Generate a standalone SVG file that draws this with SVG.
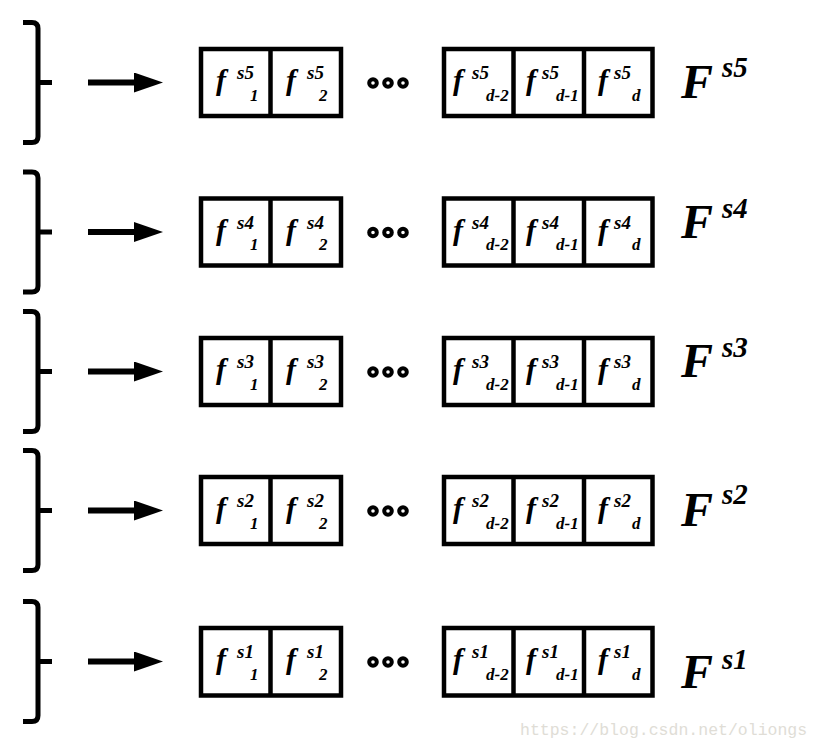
<svg xmlns="http://www.w3.org/2000/svg" width="820" height="749" viewBox="0 0 820 749">
<defs>
<style>
.br{fill:none;stroke:#000;stroke-width:5}
.bx{fill:#fff;stroke:#000;stroke-width:4.5}
.dv{stroke:#000;stroke-width:4.5}
.dot{fill:none;stroke:#000;stroke-width:4}
.ar{stroke:#000;stroke-width:6}
text{font-family:'Liberation Serif','DejaVu Serif',serif;font-style:italic;font-weight:700;fill:#000}
.f{font-size:30px}
.sp{font-size:19px}
.sb{font-size:17px}
.F{font-size:48px}
.Fs{font-size:29px}
text.wm{font-family:'Liberation Mono','DejaVu Sans Mono',monospace;font-style:normal;font-weight:400;font-size:16.5px;fill:#e0ddd6}
</style>
<marker id="ah" markerUnits="userSpaceOnUse" markerWidth="29" markerHeight="20" refX="0" refY="10" orient="auto">
<path d="M0,0 L29,10 L0,20 z" fill="#000"/>
</marker>
</defs>
<rect width="820" height="749" fill="#fff"/>

<g id="connectors">
<line class="ar" x1="88" y1="82.5" x2="134" y2="82.5" marker-end="url(#ah)"/>
<line class="ar" x1="88" y1="232" x2="134" y2="232" marker-end="url(#ah)"/>
<line class="ar" x1="88" y1="371.5" x2="134" y2="371.5" marker-end="url(#ah)"/>
<line class="ar" x1="88" y1="510.5" x2="134" y2="510.5" marker-end="url(#ah)"/>
<line class="ar" x1="88" y1="661.5" x2="134" y2="661.5" marker-end="url(#ah)"/>
</g>

<!-- Row s5 -->
<g id="bracket-s5"><path class="br" d="M23,22.5 H32 Q38,22.5 38,28.5 V136.5 Q38,142.5 32,142.5 H23 M38,82.5 H52"/></g>
<g id="cells-s5-a">
<rect class="bx" x="201" y="49" width="140" height="67"/><line class="dv" x1="270.5" y1="49" x2="270.5" y2="116"/>
<text class="f" x="216" y="90">f</text><text class="sp" x="237" y="79">s5</text><text class="sb" x="250" y="100.5">1</text>
<text class="f" x="286" y="90">f</text><text class="sp" x="307" y="79">s5</text><text class="sb" x="319" y="100.5">2</text>
</g>
<g id="dots-s5"><circle class="dot" cx="373" cy="83" r="3.8"/><circle class="dot" cx="388" cy="83" r="3.8"/><circle class="dot" cx="403" cy="83" r="3.8"/></g>
<g id="cells-s5-b">
<rect class="bx" x="444" y="49" width="208.5" height="67"/><line class="dv" x1="513.5" y1="49" x2="513.5" y2="116"/><line class="dv" x1="584" y1="49" x2="584" y2="116"/>
<text class="f" x="453" y="90">f</text><text class="sp" x="472" y="79">s5</text><text class="sb" x="486" y="100.5">d-2</text>
<text class="f" x="526" y="90">f</text><text class="sp" x="542" y="79">s5</text><text class="sb" x="556" y="100.5">d-1</text>
<text class="f" x="598" y="90">f</text><text class="sp" x="614" y="79">s5</text><text class="sb" x="632" y="100.5">d</text>
</g>
<g id="label-s5"><text class="F" x="681" y="98">F</text><text class="Fs" x="722" y="77">s5</text></g>

<!-- Row s4 -->
<g id="bracket-s4"><path class="br" d="M23,172 H32 Q38,172 38,178 V286 Q38,292 32,292 H23 M38,232 H52"/></g>
<g id="cells-s4-a">
<rect class="bx" x="201" y="198.5" width="140" height="67"/><line class="dv" x1="270.5" y1="198.5" x2="270.5" y2="265.5"/>
<text class="f" x="216" y="239.5">f</text><text class="sp" x="237" y="228.5">s4</text><text class="sb" x="250" y="250">1</text>
<text class="f" x="286" y="239.5">f</text><text class="sp" x="307" y="228.5">s4</text><text class="sb" x="319" y="250">2</text>
</g>
<g id="dots-s4"><circle class="dot" cx="373" cy="232.5" r="3.8"/><circle class="dot" cx="388" cy="232.5" r="3.8"/><circle class="dot" cx="403" cy="232.5" r="3.8"/></g>
<g id="cells-s4-b">
<rect class="bx" x="444" y="198.5" width="208.5" height="67"/><line class="dv" x1="513.5" y1="198.5" x2="513.5" y2="265.5"/><line class="dv" x1="584" y1="198.5" x2="584" y2="265.5"/>
<text class="f" x="453" y="239.5">f</text><text class="sp" x="472" y="228.5">s4</text><text class="sb" x="486" y="250">d-2</text>
<text class="f" x="526" y="239.5">f</text><text class="sp" x="542" y="228.5">s4</text><text class="sb" x="556" y="250">d-1</text>
<text class="f" x="598" y="239.5">f</text><text class="sp" x="614" y="228.5">s4</text><text class="sb" x="632" y="250">d</text>
</g>
<g id="label-s4"><text class="F" x="681" y="238">F</text><text class="Fs" x="722" y="218">s4</text></g>

<!-- Row s3 -->
<g id="bracket-s3"><path class="br" d="M23,311.5 H32 Q38,311.5 38,317.5 V425.5 Q38,431.5 32,431.5 H23 M38,371.5 H52"/></g>
<g id="cells-s3-a">
<rect class="bx" x="201" y="338" width="140" height="67"/><line class="dv" x1="270.5" y1="338" x2="270.5" y2="405"/>
<text class="f" x="216" y="379">f</text><text class="sp" x="237" y="368">s3</text><text class="sb" x="250" y="389.5">1</text>
<text class="f" x="286" y="379">f</text><text class="sp" x="307" y="368">s3</text><text class="sb" x="319" y="389.5">2</text>
</g>
<g id="dots-s3"><circle class="dot" cx="373" cy="372" r="3.8"/><circle class="dot" cx="388" cy="372" r="3.8"/><circle class="dot" cx="403" cy="372" r="3.8"/></g>
<g id="cells-s3-b">
<rect class="bx" x="444" y="338" width="208.5" height="67"/><line class="dv" x1="513.5" y1="338" x2="513.5" y2="405"/><line class="dv" x1="584" y1="338" x2="584" y2="405"/>
<text class="f" x="453" y="379">f</text><text class="sp" x="472" y="368">s3</text><text class="sb" x="486" y="389.5">d-2</text>
<text class="f" x="526" y="379">f</text><text class="sp" x="542" y="368">s3</text><text class="sb" x="556" y="389.5">d-1</text>
<text class="f" x="598" y="379">f</text><text class="sp" x="614" y="368">s3</text><text class="sb" x="632" y="389.5">d</text>
</g>
<g id="label-s3"><text class="F" x="681" y="377">F</text><text class="Fs" x="722" y="357">s3</text></g>

<!-- Row s2 -->
<g id="bracket-s2"><path class="br" d="M23,450.5 H32 Q38,450.5 38,456.5 V564.5 Q38,570.5 32,570.5 H23 M38,510.5 H52"/></g>
<g id="cells-s2-a">
<rect class="bx" x="201" y="477" width="140" height="67"/><line class="dv" x1="270.5" y1="477" x2="270.5" y2="544"/>
<text class="f" x="216" y="518">f</text><text class="sp" x="237" y="507">s2</text><text class="sb" x="250" y="528.5">1</text>
<text class="f" x="286" y="518">f</text><text class="sp" x="307" y="507">s2</text><text class="sb" x="319" y="528.5">2</text>
</g>
<g id="dots-s2"><circle class="dot" cx="373" cy="511" r="3.8"/><circle class="dot" cx="388" cy="511" r="3.8"/><circle class="dot" cx="403" cy="511" r="3.8"/></g>
<g id="cells-s2-b">
<rect class="bx" x="444" y="477" width="208.5" height="67"/><line class="dv" x1="513.5" y1="477" x2="513.5" y2="544"/><line class="dv" x1="584" y1="477" x2="584" y2="544"/>
<text class="f" x="453" y="518">f</text><text class="sp" x="472" y="507">s2</text><text class="sb" x="486" y="528.5">d-2</text>
<text class="f" x="526" y="518">f</text><text class="sp" x="542" y="507">s2</text><text class="sb" x="556" y="528.5">d-1</text>
<text class="f" x="598" y="518">f</text><text class="sp" x="614" y="507">s2</text><text class="sb" x="632" y="528.5">d</text>
</g>
<g id="label-s2"><text class="F" x="681" y="526">F</text><text class="Fs" x="722" y="504">s2</text></g>

<!-- Row s1 -->
<g id="bracket-s1"><path class="br" d="M23,601.5 H32 Q38,601.5 38,607.5 V715.5 Q38,721.5 32,721.5 H23 M38,661.5 H52"/></g>
<g id="cells-s1-a">
<rect class="bx" x="201" y="628" width="140" height="67.5"/><line class="dv" x1="270.5" y1="628" x2="270.5" y2="695.5"/>
<text class="f" x="216" y="669">f</text><text class="sp" x="237" y="658">s1</text><text class="sb" x="250" y="679.5">1</text>
<text class="f" x="286" y="669">f</text><text class="sp" x="307" y="658">s1</text><text class="sb" x="319" y="679.5">2</text>
</g>
<g id="dots-s1"><circle class="dot" cx="373" cy="662" r="3.8"/><circle class="dot" cx="388" cy="662" r="3.8"/><circle class="dot" cx="403" cy="662" r="3.8"/></g>
<g id="cells-s1-b">
<rect class="bx" x="444" y="628" width="208.5" height="67.5"/><line class="dv" x1="513.5" y1="628" x2="513.5" y2="695.5"/><line class="dv" x1="584" y1="628" x2="584" y2="695.5"/>
<text class="f" x="453" y="669">f</text><text class="sp" x="472" y="658">s1</text><text class="sb" x="486" y="679.5">d-2</text>
<text class="f" x="526" y="669">f</text><text class="sp" x="542" y="658">s1</text><text class="sb" x="556" y="679.5">d-1</text>
<text class="f" x="598" y="669">f</text><text class="sp" x="614" y="658">s1</text><text class="sb" x="632" y="679.5">d</text>
</g>
<g id="label-s1"><text class="F" x="681" y="688">F</text><text class="Fs" x="722" y="669">s1</text></g>

<text class="wm" x="520" y="735">https://blog.csdn.net/oliongs</text>
</svg>
